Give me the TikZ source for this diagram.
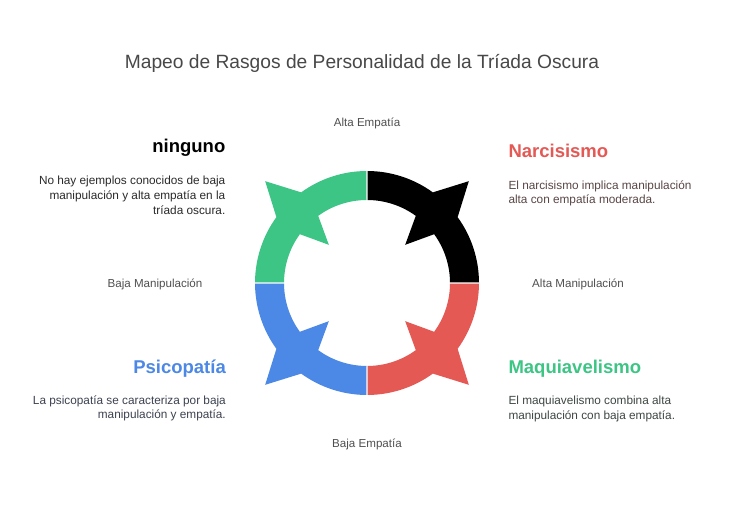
\documentclass[tikz,border=0pt]{standalone}
\usepackage{fontspec}
\setmainfont{Liberation Sans}
\definecolor{cblack}{HTML}{000000}
\definecolor{cred}{HTML}{E55955}
\definecolor{cblue}{HTML}{4C88E5}
\definecolor{cgreen}{HTML}{3CC584}
\definecolor{ctitle}{HTML}{484848}
\definecolor{clabel}{HTML}{505050}
\definecolor{dnone}{HTML}{2A2A2A}
\definecolor{dnarc}{HTML}{5A4646}
\definecolor{dpsic}{HTML}{3C4250}
\definecolor{dmaq}{HTML}{3E4742}
\begin{document}
\begin{tikzpicture}[x=1pt,y=1pt,
  titlestyle/.style={font=\fontsize{19.2}{23}\selectfont, text=ctitle, inner sep=0pt},
  axislabel/.style={font=\fontsize{11.6}{14}\selectfont, text=clabel, inner sep=0pt},
  headstyle/.style={font=\fontsize{18.5}{22}\selectfont\bfseries, inner sep=0pt},
  descstyle/.style={font=\fontsize{11.8}{14.7}\selectfont, inner sep=0pt},
  seg/.style={draw=none}]
\useasboundingbox (0,0) rectangle (735,518);
\fill[white] (0,0) rectangle (735,518);
% ring quadrants
\def\ro{112}\def\ri{83}\def\to{144}\def\ti{54}\def\dn{9}\def\gp{0.35}
\newcommand{\quadrant}[3]{%
  \pgfmathsetmacro{\qa}{#1+\gp}%
  \pgfmathsetmacro{\qb}{#2-\gp}%
  \pgfmathsetmacro{\qm}{(#1+#2)/2}%
  \pgfmathsetmacro{\qml}{\qm-\dn}%
  \pgfmathsetmacro{\qmh}{\qm+\dn}%
  \fill[#3,seg] (\qa:\ro) arc[start angle=\qa, end angle=\qml, radius=\ro]
    -- (\qm:\to) -- (\qmh:\ro)
    arc[start angle=\qmh, end angle=\qb, radius=\ro]
    -- (\qb:\ri) arc[start angle=\qb, end angle=\qmh, radius=\ri]
    -- (\qm:\ti) -- (\qml:\ri)
    arc[start angle=\qml, end angle=\qa, radius=\ri] -- cycle;}
\begin{scope}[shift={(367,235)}]
  \coordinate (ring) at (0,0);
  \quadrant{0}{90}{cblack}
  \quadrant{90}{180}{cgreen}
  \quadrant{180}{270}{cblue}
  \quadrant{270}{360}{cred}
\end{scope}
% title
\node[titlestyle, anchor=base] (title) at (362,449) {Mapeo de Rasgos de Personalidad de la Tríada Oscura};
% axis labels
\node[axislabel, anchor=base] (altaemp) at (367,391.5) {Alta Empatía};
\node[axislabel, anchor=base] (bajaemp) at (367,70) {Baja Empatía};
\node[axislabel, anchor=base] (bajaman) at (155,230.5) {Baja Manipulación};
\node[axislabel, anchor=base] (altaman) at (578,230.5) {Alta Manipulación};
% headers
\node[headstyle, text=black, anchor=base east] (ninguno) at (225.5,365.7) {ninguno};
\node[headstyle, text=cred, anchor=base west] (narc) at (508.3,360.3) {Narcisismo};
\node[headstyle, text=cblue, anchor=base east] (psic) at (226,144) {Psicopatía};
\node[headstyle, text=cgreen, anchor=base west] (maq) at (508.3,144) {Maquiavelismo};
% descriptions (base anchor = baseline of last line)
\node[descstyle, text=dnone, align=right, anchor=base east] (dninguno) at (225.5,303.8) {No hay ejemplos conocidos de baja\\manipulación y alta empatía en la\\tríada oscura.};
\node[descstyle, text=dnarc, align=left, anchor=base west] (dnarc) at (508.3,314) {El narcisismo implica manipulación\\alta con empatía moderada.};
\node[descstyle, text=dpsic, align=right, anchor=base east] (dpsic) at (226,99) {La psicopatía se caracteriza por baja\\manipulación y empatía.};
\node[descstyle, text=dmaq, align=left, anchor=base west] (dmaq) at (508.3,98.3) {El maquiavelismo combina alta\\manipulación con baja empatía.};
\end{tikzpicture}
\end{document}
